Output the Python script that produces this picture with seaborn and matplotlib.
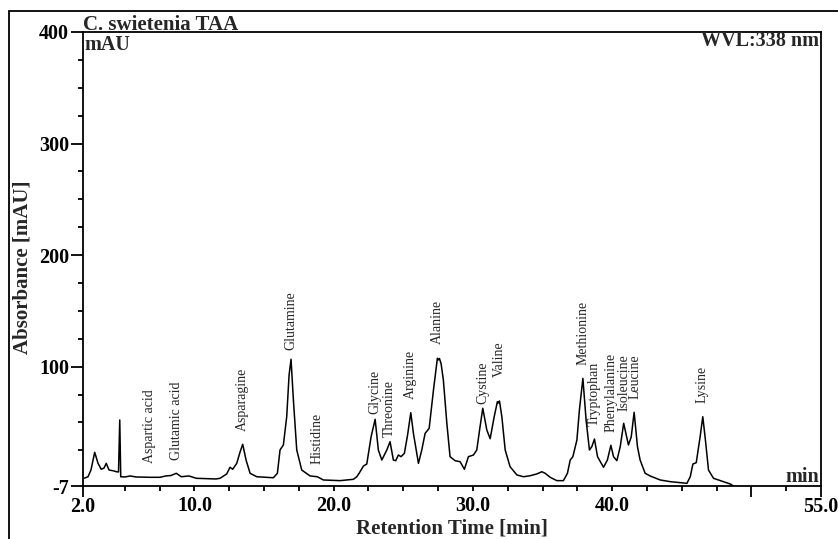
import numpy as np
import pandas as pd
import seaborn as sns
import matplotlib
matplotlib.use("Agg")
import matplotlib.pyplot as plt
from matplotlib.patches import Rectangle

# ---------------- data ----------------
time_min = [2.10, 2.36, 2.57, 2.84, 3.08, 3.31, 3.51, 3.67, 3.87, 4.16, 4.39, 4.55, 4.64, 4.71,
            5.02, 5.38, 5.81, 6.81, 7.53, 7.94, 8.32, 8.70, 9.06, 9.61, 10.14, 11.55, 11.84,
            12.32, 12.56, 12.75, 13.04, 13.28, 13.47, 13.71, 14.00, 14.48, 15.67, 15.96, 16.15,
            16.39, 16.63, 16.80, 16.94, 17.11, 17.35, 17.71, 18.31, 18.83, 19.26, 20.46, 21.42,
            21.66, 21.83, 22.14, 22.38, 22.69, 22.98, 23.21, 23.46, 23.82, 24.05, 24.29, 24.46,
            24.65, 24.84, 25.08, 25.31, 25.54, 25.73, 26.09, 26.33, 26.57, 26.86, 27.17, 27.45,
            27.52, 27.60, 27.72, 27.88, 28.13, 28.36, 28.72, 29.08, 29.39, 29.68, 30.04, 30.28,
            30.48, 30.71, 31.00, 31.24, 31.53, 31.76, 31.83, 31.91, 32.08, 32.32, 32.67, 33.16,
            33.63, 34.11, 34.59, 34.95, 35.19, 35.55, 36.03, 36.50, 36.79, 36.99, 37.18, 37.47,
            37.65, 37.90, 38.13, 38.37, 38.54, 38.73, 38.95, 39.38, 39.66, 39.91, 40.10, 40.34,
            40.58, 40.83, 41.17, 41.37, 41.58, 41.82, 42.01, 42.37, 42.73, 43.45, 44.17, 45.37,
            45.61, 45.80, 46.04, 46.32, 46.51, 46.70, 46.92, 47.28, 48.00, 48.48, 48.72]
absorbance = [0.0, 1.3, 7.3, 23.2, 13.3, 8.0, 9.1, 13.3, 7.3, 6.7, 5.8, 5.6, 52.2, 1.3,
              1.1, 2.0, 1.1, 0.8, 0.8, 2.0, 2.4, 4.4, 1.3, 2.0, -0.1, -0.7, -0.1,
              3.8, 9.8, 8.0, 13.3, 23.5, 30.4, 16.3, 4.4, 1.3, 0.4, 4.4, 25.3,
              29.8, 55.1, 92.5, 106.6, 70.1, 25.3, 7.3, 2.0, 1.3, -1.6, -2.2, -1.0,
              1.3, 4.4, 10.9, 12.7, 37.2, 52.8, 25.3, 16.3, 25.3, 32.7, 16.3, 15.7,
              20.8, 19.3, 22.3, 38.7, 58.7, 40.2, 13.3, 25.3, 40.2, 44.7, 79.1, 107.5,
              106.0, 107.3, 102.4, 88.0, 49.2, 19.3, 15.7, 14.8, 8.0, 19.3, 20.8, 25.3,
              43.2, 62.7, 43.2, 35.4, 55.1, 68.6, 67.4, 69.2, 55.1, 25.3, 10.3, 2.9,
              1.3, 2.2, 3.8, 5.8, 4.4, 0.8, -2.2, -2.2, 4.4, 16.3, 19.3, 34.2,
              61.1, 89.5, 52.2, 25.3, 28.2, 35.1, 19.3, 9.8, 16.3, 29.5, 19.3, 15.7,
              28.2, 49.2, 29.8, 36.9, 59.1, 28.2, 16.3, 4.4, 2.0, -1.6, -3.1, -4.6,
              1.3, 12.7, 13.9, 37.2, 55.1, 34.2, 7.3, -0.1, -3.1, -5.2, -7.0]

peak_names = ["Aspartic acid", "Glutamic acid", "Asparagine", "Glutamine", "Histidine",
              "Glycine", "Threonine", "Arginine", "Alanine", "Cystine", "Valine",
              "Methionine", "Tryptophan", "Phenylalanine", "Isoleucine", "Leucine", "Lysine"]
peak_time = [6.81, 8.70, 13.47, 16.94, 18.79, 22.93, 24.00, 25.49, 27.45, 30.71, 31.89,
             37.90, 38.73, 39.91, 40.82, 41.64, 46.49]
peak_label_base = [13.6, 16.3, 42.3, 114.9, 12.7, 57.5, 37.2, 70.7, 120.3, 66.2, 90.4,
                   101.5, 46.8, 41.1, 60.5, 71.0, 67.1]

x_label_ticks = [2, 10, 20, 30, 40, 55]
x_label_text = ["2.0", "10.0", "20.0", "30.0", "40.0", "55.0"]
y_label_ticks = [-7, 100, 200, 300, 400]
y_label_text = ["-7", "100", "200", "300", "400"]

# ---------------- figure ----------------
W, H = 838, 539
sns.set_theme(style="ticks")
plt.rcParams["font.family"] = ["Liberation Serif", "DejaVu Serif"]

fig = plt.figure(figsize=(W / 100, H / 100), dpi=100)
fig.patch.set_facecolor("white")
ax = fig.add_axes([83 / W, 1 - 486 / H, (821 - 83) / W, (486 - 32) / H])

df = pd.DataFrame({"t": time_min, "a": absorbance})
sns.lineplot(data=df, x="t", y="a", ax=ax, color="black", linewidth=1.1,
             estimator=None, sort=False)

ax.set_xlim(2, 55)
ax.set_ylim(-7, 400)
ax.set_xlabel("")
ax.set_ylabel("")
ax.set_facecolor("white")
for s in ax.spines.values():
    s.set_visible(True)
    s.set_linewidth(1.3)
    s.set_color("black")

px = 0.72  # points per pixel
bold = dict(fontweight="bold", fontsize=14.5)
label_map = dict(zip(x_label_ticks, x_label_text))

# x ticks: long ones at 2, 50, 55 ; short ones every 2.5
long_x = [2, 50, 55]
short_x = [float(v) for v in np.arange(5, 55, 2.5) if abs(v - 50) > 1e-6]
ax.set_xticks(long_x)
ax.set_xticklabels([label_map.get(v, "") for v in long_x], **bold)
ax.set_xticks(short_x, minor=True)
ax.set_xticklabels([label_map.get(int(v), "") if v.is_integer() else "" for v in short_x],
                   minor=True, **bold)
ax.tick_params(axis="x", which="major", length=11 * px, width=1.3, direction="out", pad=-0.5 * px, colors="black")
ax.tick_params(axis="x", which="minor", length=4.7 * px, width=1.3, direction="out", pad=5.5 * px, colors="black")

ax.set_yticks(y_label_ticks)
ax.set_yticklabels(y_label_text, **bold)
ax.set_yticks([v for v in range(25, 400, 25) if v % 100 != 0], minor=True)
ax.tick_params(axis="y", which="major", length=12.5 * px, width=1.3, direction="out", pad=1.5 * px, colors="black")
ax.tick_params(axis="y", which="minor", length=5.5 * px, width=1.3, direction="out", colors="black")

# peak labels
for name, t, b in zip(peak_names, peak_time, peak_label_base):
    ax.text(t, b, name, rotation=90, ha="center", va="bottom", fontsize=10)

# header / annotations
big = dict(fontweight="bold", fontsize=15)
fig.text(83 / W, 1 - 30 / H, "C. swietenia TAA", ha="left", va="baseline", **big)
fig.text(84 / W, 1 - 50 / H, "mAU", ha="left", va="baseline", **bold)
fig.text(819 / W, 1 - 46.5 / H, "WVL:338 nm", ha="right", va="baseline", **bold)
fig.text(819 / W, 1 - 481.5 / H, "min", ha="right", va="baseline", **bold)
fig.text(452 / W, 1 - 533 / H, "Retention Time [min]", ha="center", va="baseline", **big)
fig.text(22 / W, 1 - 267 / H, "Absorbance [mAU]", ha="center", va="center", rotation=90, **big)

# outer frame (only left and top edges are inside the picture)
fig.add_artist(Rectangle((9 / W, -0.2), 1.5, 1.2 - 11 / H, transform=fig.transFigure,
                         fill=False, edgecolor="black", linewidth=1.3))

fig.savefig("out.png", dpi=100, facecolor="white")
